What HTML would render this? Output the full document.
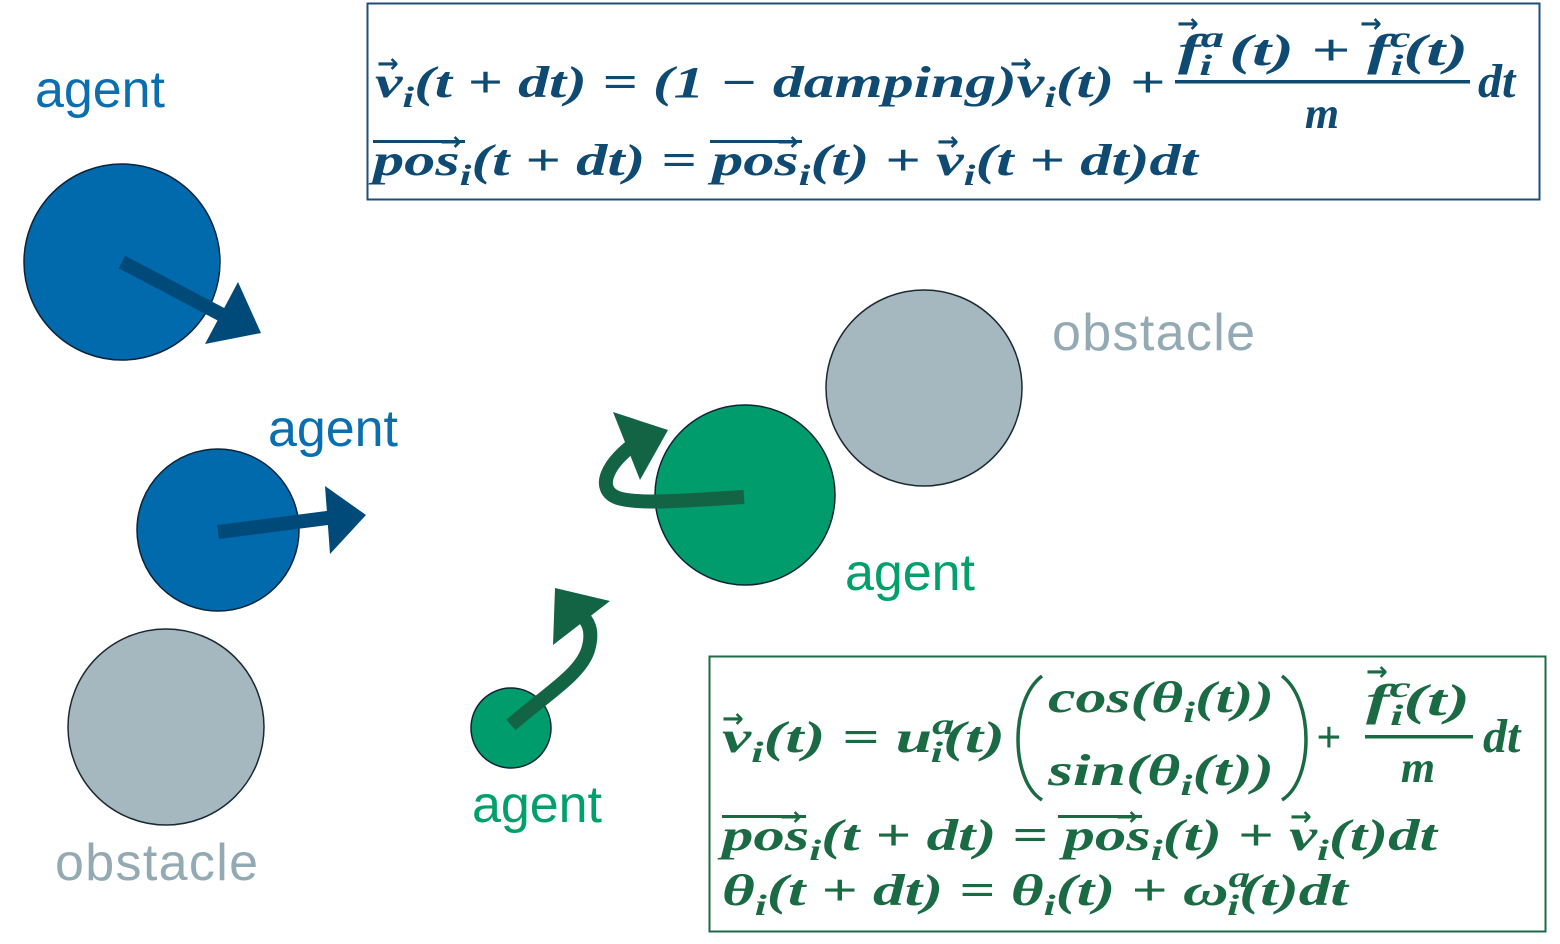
<!DOCTYPE html>
<html><head><meta charset="utf-8"><style>
html,body{margin:0;padding:0;background:#fff;}
svg{display:block;}
.eq{font-family:"Liberation Serif",serif;font-weight:bold;font-style:italic;}
.lab{font-family:"Liberation Sans",sans-serif;font-size:52px;}
.ar{font-family:"DejaVu Sans",sans-serif;font-size:26px;font-style:normal;font-weight:bold;}
</style></head><body>
<svg width="1560" height="944" viewBox="0 0 1560 944" xmlns="http://www.w3.org/2000/svg">
<circle cx="122" cy="262" r="98" fill="#006aad" stroke="#0a2438" stroke-width="1.5"/>
<circle cx="218" cy="530" r="81" fill="#006aad" stroke="#0a2438" stroke-width="1.5"/>
<circle cx="166" cy="727" r="98" fill="#a5b8c0" stroke="#1a2a33" stroke-width="1.5"/>
<circle cx="924" cy="388" r="98" fill="#a5b8c0" stroke="#1a2a33" stroke-width="1.5"/>
<circle cx="745" cy="495" r="90" fill="#009c6c" stroke="#0a2438" stroke-width="1.5"/>
<circle cx="511" cy="728" r="40" fill="#009c6c" stroke="#0a2438" stroke-width="1.5"/>
<line x1="122" y1="262" x2="228" y2="318" stroke="#004a7a" stroke-width="14"/>
<polygon points="238,282 261,333 205,344" fill="#004a7a"/>
<line x1="218" y1="532" x2="335" y2="517" stroke="#004a7a" stroke-width="14"/>
<polygon points="325,486 366,515 330,554" fill="#004a7a"/>
<path d="M744,497 C690,500 640,505 618,498 C595,490 606,462 640,440" fill="none" stroke="#136444" stroke-width="14"/>
<polygon points="613,412 668,430 640,480" fill="#136444"/>
<path d="M511,725 C545,695 580,675 588,650 C594,630 588,620 578,612" fill="none" stroke="#136444" stroke-width="14"/>
<polygon points="555,588 610,601 553,645" fill="#136444"/>
<text class="lab" x="35" y="107" fill="#0a6eb0" textLength="130">agent</text>
<text class="lab" x="268" y="446" fill="#0a6eb0" textLength="130">agent</text>
<text class="lab" x="1052" y="350" fill="#93a9b3" textLength="203">obstacle</text>
<text class="lab" x="55" y="880" fill="#93a9b3" textLength="203">obstacle</text>
<text class="lab" x="845" y="590" fill="#00a06a" textLength="130">agent</text>
<text class="lab" x="472" y="822" fill="#00a06a" textLength="130">agent</text>
<rect x="367.5" y="3.5" width="1172" height="196" fill="none" stroke="#1f4e79" stroke-width="2"/>
<g class="eq" fill="#0e4a72" font-size="44">
<text x="375" y="97" textLength="790" lengthAdjust="spacingAndGlyphs">v<tspan font-size="30" dy="10">i</tspan><tspan dy="-10">(t + dt) = (1 − damping)v</tspan><tspan font-size="30" dy="10">i</tspan><tspan dy="-10">(t) +</tspan></text>
<text x="1178" y="65" textLength="290" lengthAdjust="spacingAndGlyphs">f<tspan font-size="30" dy="-18">a</tspan><tspan font-size="30" dx="-16" dy="28">i</tspan><tspan dy="-10"> (t) + f</tspan><tspan font-size="30" dy="-18">c</tspan><tspan font-size="30" dx="-13" dy="28">i</tspan><tspan dy="-10">(t)</tspan></text>
<rect x="1175" y="80" width="295" height="3.5" fill="#0e4a72"/>
<text x="1322" y="128" text-anchor="middle">m</text>
<text x="1478" y="97" font-size="48">dt</text>
<text x="373" y="175" textLength="825" lengthAdjust="spacingAndGlyphs">pos<tspan font-size="30" dy="10">i</tspan><tspan dy="-10">(t + dt) = pos</tspan><tspan font-size="30" dy="10">i</tspan><tspan dy="-10">(t) + v</tspan><tspan font-size="30" dy="10">i</tspan><tspan dy="-10">(t + dt)dt</tspan></text>
<rect x="373" y="140" width="92" height="3" fill="#0e4a72"/>
<rect x="710" y="140" width="92" height="3" fill="#0e4a72"/>
<text class="ar" x="377" y="72">→</text>
<text class="ar" x="1010" y="72">→</text>
<text class="ar" x="937" y="150">→</text>
<text class="ar" x="1177" y="32">→</text>
<text class="ar" x="1360" y="32">→</text>
<text class="ar" x="440" y="150">→</text>
<text class="ar" x="777" y="150">→</text>
</g>
<rect x="709.5" y="656.5" width="836" height="275" fill="none" stroke="#1e6b45" stroke-width="2"/>
<g class="eq" fill="#1a6a44" font-size="44">
<text x="722" y="752" textLength="283" lengthAdjust="spacingAndGlyphs">v<tspan font-size="30" dy="10">i</tspan><tspan dy="-10">(t) = u</tspan><tspan font-size="30" dy="-18">a</tspan><tspan font-size="30" dx="-16" dy="28">i</tspan><tspan dy="-10">(t)</tspan></text>
<path d="M1042,676 C1010,700 1010,780 1042,800" fill="none" stroke="#1a6a44" stroke-width="3.5"/>
<path d="M1282,676 C1314,700 1314,780 1282,800" fill="none" stroke="#1a6a44" stroke-width="3.5"/>
<text x="1048" y="712" textLength="226" lengthAdjust="spacingAndGlyphs">cos(θ<tspan font-size="30" dy="10">i</tspan><tspan dy="-10">(t))</tspan></text>
<text x="1048" y="785" textLength="226" lengthAdjust="spacingAndGlyphs">sin(θ<tspan font-size="30" dy="10">i</tspan><tspan dy="-10">(t))</tspan></text>
<text x="1316" y="752">+</text>
<text x="1366" y="715" textLength="104" lengthAdjust="spacingAndGlyphs">f<tspan font-size="30" dy="-18">c</tspan><tspan font-size="30" dx="-13" dy="28">i</tspan><tspan dy="-10">(t)</tspan></text>
<rect x="1365" y="735" width="108" height="3.5" fill="#1a6a44"/>
<text x="1418" y="782" text-anchor="middle">m</text>
<text x="1483" y="752" font-size="48">dt</text>
<text x="722" y="850" textLength="715" lengthAdjust="spacingAndGlyphs">pos<tspan font-size="30" dy="10">i</tspan><tspan dy="-10">(t + dt) = pos</tspan><tspan font-size="30" dy="10">i</tspan><tspan dy="-10">(t) + v</tspan><tspan font-size="30" dy="10">i</tspan><tspan dy="-10">(t)dt</tspan></text>
<rect x="722" y="815" width="84" height="3" fill="#1a6a44"/>
<rect x="1058" y="815" width="84" height="3" fill="#1a6a44"/>
<text class="ar" x="722" y="727">→</text>
<text class="ar" x="1290" y="825">→</text>
<text class="ar" x="1366" y="680">→</text>
<text class="ar" x="780" y="825">→</text>
<text class="ar" x="1116" y="825">→</text>
<text x="722" y="905" textLength="626" lengthAdjust="spacingAndGlyphs">θ<tspan font-size="30" dy="10">i</tspan><tspan dy="-10">(t + dt) = θ</tspan><tspan font-size="30" dy="10">i</tspan><tspan dy="-10">(t) + ω</tspan><tspan font-size="30" dy="-18">a</tspan><tspan font-size="30" dx="-16" dy="28">i</tspan><tspan dy="-10">(t)dt</tspan></text>
</g>
</svg>
</body></html>
